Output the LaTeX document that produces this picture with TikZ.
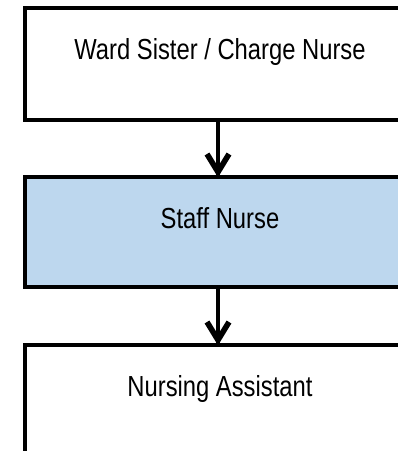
\documentclass[tikz,border=0pt]{standalone}
\usepackage{fontspec}
\setmainfont[FakeStretch=0.82]{Liberation Sans}
\definecolor{boxblue}{RGB}{189,215,238}
\tikzset{
  box/.style={draw=black, line width=3.5pt, rectangle, inner sep=0pt, outer sep=0pt,
    minimum width=390pt},
  lbl/.style={anchor=base, inner sep=0pt, font=\fontsize{29pt}{34pt}\selectfont},
  conn/.style={line width=4.8pt},
  chev/.style={line width=5.6pt, line join=miter, miter limit=10}
}
\begin{document}
\begin{tikzpicture}[x=1pt,y=1pt]
\useasboundingbox (0,0) rectangle (398,-451);
\clip (0,0) rectangle (398,-451);
\node[box, fill=white, minimum height=111.8pt] (ward) at (220,-64.1) {};
\node[box, fill=boxblue, minimum height=110pt] (staff) at (220,-232) {};
\node[box, fill=white, minimum height=135pt] (assist) at (220,-412.5) {};
\node[lbl] (wardt) at (220,-59) {Ward Sister / Charge Nurse};
\node[lbl] (stafft) at (220,-228) {Staff Nurse};
\node[lbl] (assistt) at (220,-396) {Nursing Assistant};
\coordinate (t1) at ([xshift=-2pt]staff.north);
\coordinate (t2) at ([xshift=-2pt]assist.north);
\draw[conn] ([xshift=-2pt]ward.south) -- (t1);
\draw[chev] ([xshift=-11pt,yshift=23pt]t1) -- ([yshift=5pt]t1) -- ([xshift=11pt,yshift=23pt]t1);
\draw[conn] ([xshift=-2pt]staff.south) -- (t2);
\draw[chev] ([xshift=-11pt,yshift=23pt]t2) -- ([yshift=5pt]t2) -- ([xshift=11pt,yshift=23pt]t2);
\end{tikzpicture}
\end{document}
